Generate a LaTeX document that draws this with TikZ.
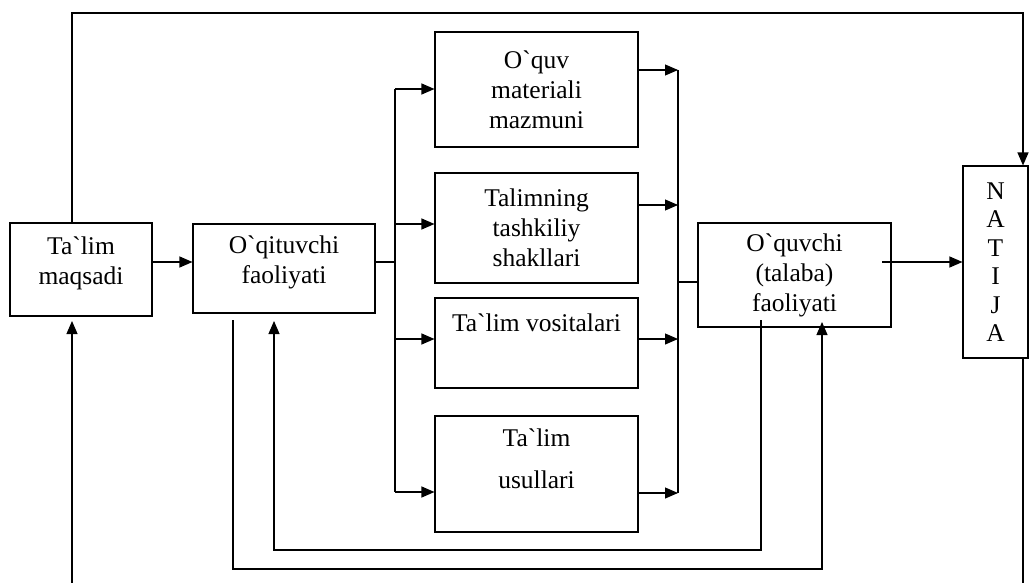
\documentclass[tikz,border=0pt]{standalone}
\usepackage{fontspec}
\setmainfont{Liberation Serif}[Ligatures=TeXOff]
\usetikzlibrary{arrows.meta, positioning, calc}

\begin{document}
\begin{tikzpicture}[x=1pt, y=-1pt, line width=1.1pt,
  >={Triangle[length=13pt,width=11pt]},
  blok/.style={draw, align=center, inner sep=0pt, font=\fontsize{25.5}{30}\selectfont}]
\useasboundingbox (0,0) rectangle (1030,583);

% Main blocks
\node[blok, minimum width=142, minimum height=93] (maqsad) at (81,269.5) {Ta`lim\\maqsadi\\[-12pt]\mbox{}};
\node[blok, minimum width=182, minimum height=89] (oqituvchi) at (284,268.5) {O`qituvchi\\faoliyati\\[-12pt]\mbox{}};
\node[blok, minimum width=193, minimum height=104] (oquvchi) at (794.5,275) {O`quvchi\\(talaba)\\faoliyati};
\node[blok, minimum width=65, minimum height=192, font=\fontsize{25.5}{28.5}\selectfont] (natija) at (995.5,262) {N\\A\\T\\I\\J\\A};

% Middle column
\node[blok, minimum width=203, minimum height=115] (mazmun) at (536.5,89.5) {O`quv\\materiali\\mazmuni};
\node[blok, minimum width=203, minimum height=110] (shakl) at (536.5,228) {Talimning\\tashkiliy\\shakllari};
\node[blok, minimum width=203, minimum height=90] (vosita) at (536.5,343) {Ta`lim vositalari\\[10pt]\mbox{}};
\node[blok, minimum width=203, minimum height=116] (usul) at (536.5,474) {Ta`lim\\[12pt]usullari\\\mbox{}};

% Buses
\coordinate (busL) at (395,262);
\coordinate (busR) at (678,282);
\draw (maqsad.east |- 0,262) edge[->] (oqituvchi.west |- 0,262);
\draw (oqituvchi.east |- busL) -- (busL);
\draw (busL |- 0,89) -- (busL |- 0,492);
\draw[->] (busL |- 0,89) -- (mazmun.west |- 0,89);
\draw[->] (busL |- 0,224) -- (shakl.west |- 0,224);
\draw[->] (busL |- 0,339) -- (vosita.west |- 0,339);
\draw[->] (busL |- 0,492) -- (usul.west |- 0,492);
\draw[->] (mazmun.east |- 0,70) -- (busR |- 0,70);
\draw[->] (shakl.east |- 0,205) -- (busR |- 0,205);
\draw[->] (vosita.east |- 0,339) -- (busR |- 0,339);
\draw[->] (usul.east |- 0,493) -- (busR |- 0,493);
\draw (busR |- 0,70) -- (busR |- 0,493);
\draw (busR) -- (oquvchi.west |- busR);
\draw[->] (882,262) -- (natija.west |- 0,262);

% Outer loop
\draw[->] (maqsad.north -| 72,0) |- (1023,13) -- (natija.north -| 1023,0);
\draw[->] (72,583) -- (72,321);
\draw (natija.south -| 1023,0) -- (1023,583);

% Feedback loops
\draw[->] (233,320) |- (822,569) -- (822,322);
\draw[->] (761,320) |- (274,550) -- (274,321);
\end{tikzpicture}
\end{document}
